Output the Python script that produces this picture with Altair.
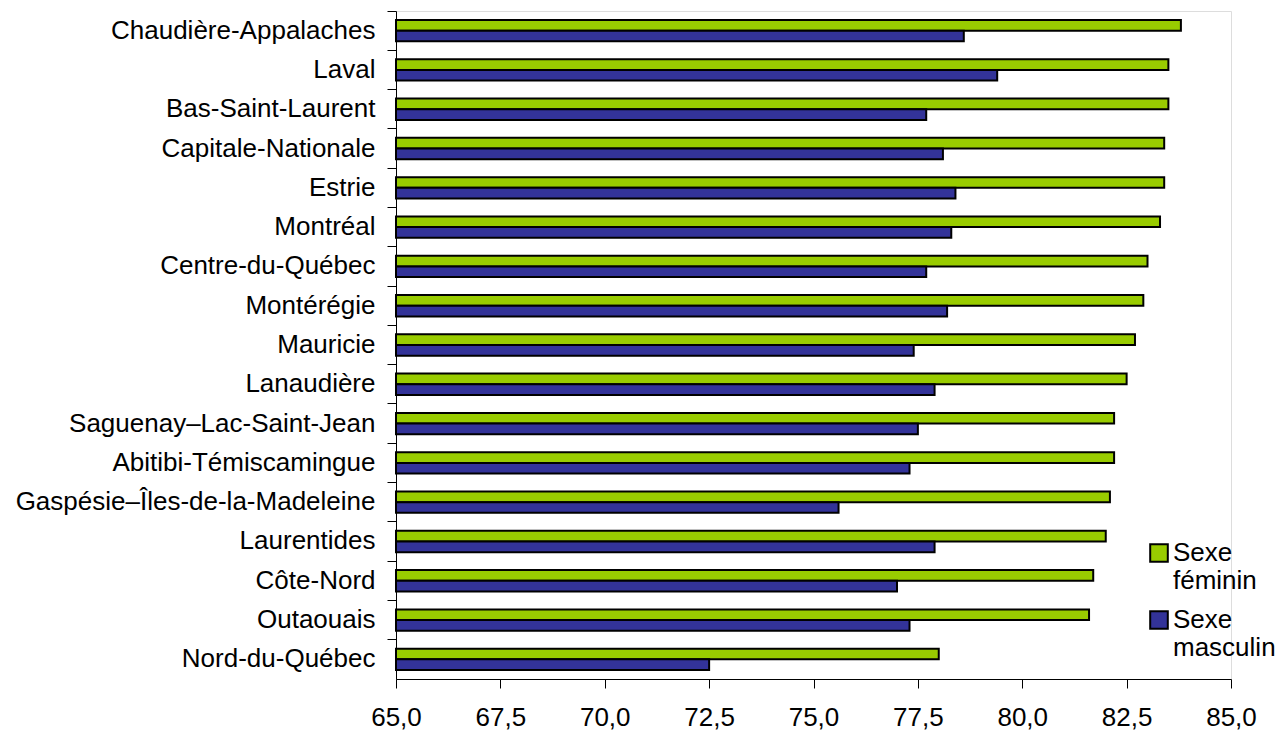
import altair as alt
import pandas as pd

regions = [
    "Chaudière-Appalaches", "Laval", "Bas-Saint-Laurent", "Capitale-Nationale",
    "Estrie", "Montréal", "Centre-du-Québec", "Montérégie", "Mauricie",
    "Lanaudière", "Saguenay–Lac-Saint-Jean", "Abitibi-Témiscamingue",
    "Gaspésie–Îles-de-la-Madeleine", "Laurentides", "Côte-Nord", "Outaouais",
    "Nord-du-Québec",
]
feminin = [83.8, 83.5, 83.5, 83.4, 83.4, 83.3, 83.0, 82.9, 82.7, 82.5, 82.2,
           82.2, 82.1, 82.0, 81.7, 81.6, 78.0]
masculin = [78.6, 79.4, 77.7, 78.1, 78.4, 78.3, 77.7, 78.2, 77.4, 77.9, 77.5,
            77.3, 75.6, 77.9, 77.0, 77.3, 72.5]
series = ["Sexe féminin", "Sexe masculin"]
colors = ["#99CC00", "#333399"]
x_ticks = [65.0, 67.5, 70.0, 72.5, 75.0, 77.5, 80.0, 82.5, 85.0]

rows = []
for r, f, m in zip(regions, feminin, masculin):
    rows.append({"region": r, "sexe": series[0], "valeur": f})
    rows.append({"region": r, "sexe": series[1], "valeur": m})
df = pd.DataFrame(rows)

FONT = "Liberation Sans"
FS = 26

bars = alt.Chart(df).mark_bar(stroke="black", strokeWidth=2, clip=False).encode(
    x=alt.X(
        "valeur:Q",
        scale=alt.Scale(domain=[65, 85], nice=False, zero=False),
        axis=alt.Axis(
            values=x_ticks,
            labelExpr="replace(format(datum.value, '.1f'), '.', ',')",
            title=None,
            grid=False,
            tickSize=9,
            labelPadding=16,
            labelFontSize=FS,
            labelFont=FONT,
            labelColor="black",
            domainColor="black",
            tickColor="black",
            labelFlush=False,
            labelOverlap=False,
        ),
    ),
    x2=alt.datum(65),
    y=alt.Y(
        "region:N",
        sort=regions,
        scale=alt.Scale(paddingInner=0, paddingOuter=0),
        axis=alt.Axis(
            title=None,
            bandPosition=0,
            tickSize=9,
            labelPadding=12,
            labelFontSize=FS,
            labelFont=FONT,
            labelColor="black",
            domainColor="black",
            tickColor="black",
            labelLimit=400,
        ),
    ),
    yOffset=alt.YOffset(
        "sexe:N",
        sort=series,
        scale=alt.Scale(paddingInner=0, paddingOuter=0.84),
    ),
    color=alt.Color(
        "sexe:N",
        scale=alt.Scale(domain=series, range=colors),
        legend=alt.Legend(
            orient="none",
            legendX=750,
            legendY=529,
            title=None,
            padding=0,
            symbolType="square",
            symbolSize=310,
            symbolStrokeColor="black",
            symbolStrokeWidth=2,
            symbolOpacity=1,
            labelFontSize=FS,
            labelFont=FONT,
            labelColor="black",
            labelExpr="split(datum.label, ' ')",
            labelOffset=1,
            labelLimit=400,
            rowPadding=13,
        ),
    ),
)

chart = bars.properties(
    width=835,
    height=668,
    autosize=alt.AutoSizeParams(type="none"),
    padding={"left": 388, "top": 3, "right": 44, "bottom": 52},
).configure_view(stroke=None).configure(background="white")

chart.save("out.html", embed_options={"renderer": "svg", "actions": False})
